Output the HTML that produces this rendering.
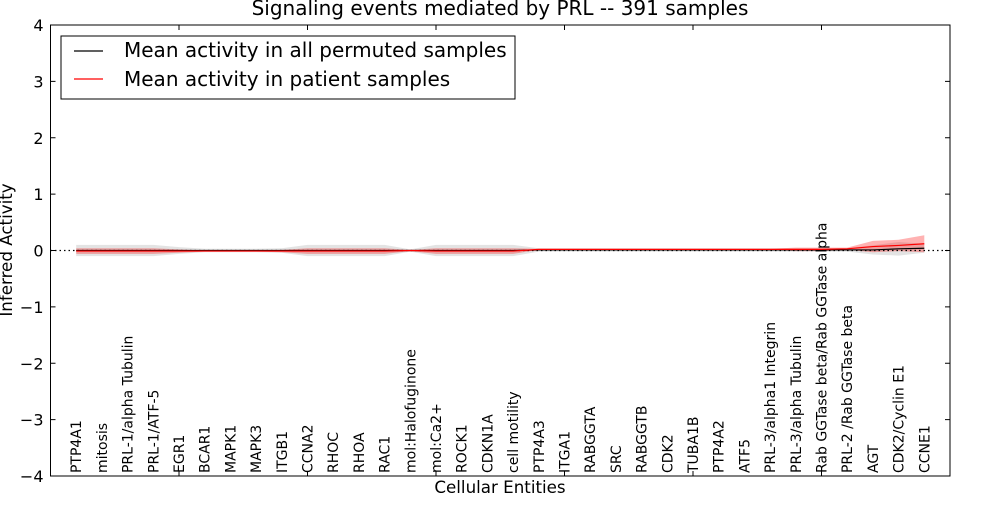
<!DOCTYPE html>
<html><head><meta charset="utf-8"><style>
body{margin:0;background:#fff}
svg text{font-family:"DejaVu Sans","Liberation Sans",sans-serif}
</style></head><body>
<svg id="chart" width="1000" height="500" xmlns="http://www.w3.org/2000/svg">
<rect width="1000" height="500" fill="#fff"/>
<g id="bands"></g>
<g id="lines"></g>
<g id="axes"></g>
</svg>
<script>
const categories=["PTP4A1","mitosis","PRL-1/alpha Tubulin","PRL-1/ATF-5","EGR1","BCAR1","MAPK1","MAPK3","ITGB1","CCNA2","RHOC","RHOA","RAC1","mol:Halofuginone","mol:Ca2+","ROCK1","CDKN1A","cell motility","PTP4A3","ITGA1","RABGGTA","SRC","RABGGTB","CDK2","TUBA1B","PTP4A2","ATF5","PRL-3/alpha1 Integrin","PRL-3/alpha Tubulin","Rab GGTase beta/Rab GGTase alpha","PRL-2 /Rab GGTase beta","AGT","CDK2/Cyclin E1","CCNE1"];
const patientMean=[-0.01,-0.01,-0.01,-0.01,-0.01,-0.01,-0.01,-0.01,-0.01,-0.01,-0.01,-0.01,-0.01,0,-0.01,-0.01,-0.01,-0.01,0.02,0.02,0.02,0.02,0.02,0.02,0.02,0.02,0.02,0.02,0.02,0.02,0.03,0.07,0.09,0.12];
const patientSpread=[0.05,0.05,0.05,0.05,0.03,0.01,0.01,0.01,0.02,0.05,0.05,0.05,0.05,0.01,0.05,0.05,0.05,0.05,0.01,0.01,0.01,0.01,0.01,0.01,0.01,0.01,0.01,0.01,0.03,0.03,0.02,0.1,0.1,0.15];
const permMean=[0,0,0,0,0,0,0,0,0,0,0,0,0,0,0,0,0,0,0.01,0.01,0.01,0.01,0.01,0.01,0.01,0.01,0.01,0.01,0.01,0.01,0.01,0.01,0.03,0.04];
const permSpread=[0.1,0.1,0.1,0.1,0.06,0.03,0.03,0.03,0.04,0.1,0.1,0.1,0.1,0.02,0.1,0.1,0.1,0.1,0.03,0.03,0.03,0.03,0.03,0.03,0.03,0.03,0.03,0.03,0.03,0.03,0.03,0.08,0.12,0.08];
const yTicks=[-4,-3,-2,-1,0,1,2,3,4];
const xTicks=[5,10,15,20,25,30];
const L=50.5,R=950,T=25,B=476;
const X=v=>L+v*(R-L)/35;
const Y=v=>T+(4-v)*(B-T)/8;
const NS="http://www.w3.org/2000/svg";
function mk(p,tag,at){const e=document.createElementNS(NS,tag);for(const k in at)e.setAttribute(k,at[k]);p.appendChild(e);return e;}
const bands=document.getElementById('bands'),lines=document.getElementById('lines'),axes=document.getElementById('axes');
function band(mean,sp){let up=mean.map((m,i)=>X(i+1)+','+Y(m+sp[i]));let dn=mean.map((m,i)=>X(i+1)+','+Y(m-sp[i])).reverse();return up.concat(dn).join(' ');}
const gb=mk(bands,'polygon',{points:band(permMean,permSpread),fill:'#c8c8c8','fill-opacity':'0.5'});


const rb=mk(bands,'polygon',{points:band(patientMean,patientSpread),fill:'#ff0000','fill-opacity':'0.3'});


const zl=mk(lines,'line',{x1:L,x2:R,y1:Y(0),y2:Y(0),stroke:'#000','stroke-dasharray':'1.5,3','stroke-width':1.2});


const pl=mk(lines,'polyline',{points:permMean.map((m,i)=>X(i+1)+','+Y(m)).join(' '),fill:'none',stroke:'#000','stroke-width':1.2});


const rl=mk(lines,'polyline',{points:patientMean.map((m,i)=>X(i+1)+','+Y(m)).join(' '),fill:'none',stroke:'#f00','stroke-width':1.2});


const fr=mk(axes,'rect',{x:L,y:T,width:R-L,height:B-T,fill:'none',stroke:'#000','stroke-width':1});


yTicks.forEach(v=>{
 mk(axes,'line',{x1:L,x2:L+5,y1:Y(v),y2:Y(v),stroke:'#000'});
 mk(axes,'line',{x1:R,x2:R-5,y1:Y(v),y2:Y(v),stroke:'#000'});
 const t=mk(axes,'text',{x:L-7,y:Y(v)+6,'text-anchor':'end','font-size':16});
 t.textContent=(v<0?'\u2212'+(-v):v);
 
 
});
xTicks.forEach(v=>{
 mk(axes,'line',{x1:X(v),x2:X(v),y1:T,y2:T+5,stroke:'#000'});
 mk(axes,'line',{x1:X(v),x2:X(v),y1:B,y2:B-5,stroke:'#000'});
});
categories.forEach((c,i)=>{
 const x=X(i+1)+5,y=473;
 const t=mk(axes,'text',{x:x,y:y,transform:`rotate(-90 ${x} ${y})`,'font-size':14});
 t.textContent=c;
 
 
});
</script>
<svg style="position:absolute;left:0;top:0" width="1000" height="500" xmlns="http://www.w3.org/2000/svg">
<text x="500" y="15" text-anchor="middle" font-size="20" font-family="DejaVu Sans,sans-serif">Signaling events mediated by PRL -- 391 samples</text>
<text x="500" y="493" text-anchor="middle" font-size="16.7" font-family="DejaVu Sans,sans-serif">Cellular Entities</text>
<text x="12" y="250" transform="rotate(-90 12 250)" text-anchor="middle" font-size="16.7" font-family="DejaVu Sans,sans-serif">Inferred Activity</text>
<g>
<rect x="61" y="36" width="454" height="63" fill="#fff" stroke="#000"/>
<line x1="74" x2="103" y1="51" y2="51" stroke="#000" stroke-width="1.2"/>
<text x="124" y="57" font-size="20" font-family="DejaVu Sans,sans-serif">Mean activity in all permuted samples</text>
<line x1="74" x2="103" y1="79" y2="79" stroke="#f00" stroke-width="1.2"/>
<text x="124" y="86" font-size="20" font-family="DejaVu Sans,sans-serif">Mean activity in patient samples</text>
</g>
</svg>
</body></html>
